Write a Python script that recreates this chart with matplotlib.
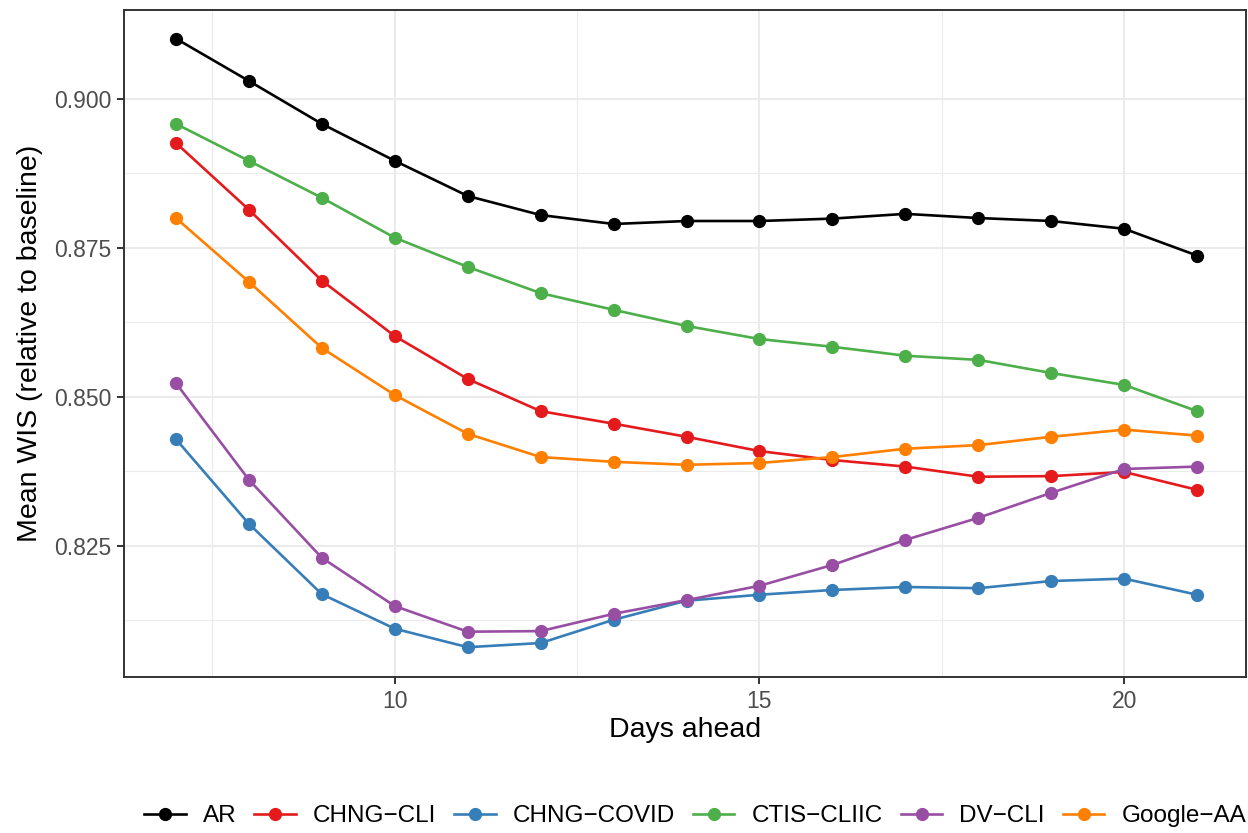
import numpy as np
import matplotlib
matplotlib.use("Agg")
import matplotlib.pyplot as plt
from matplotlib.lines import Line2D

plt.rcParams['font.family'] = ['Liberation Sans', 'DejaVu Sans']

days = list(range(7, 22))

ar = [0.9101, 0.9030, 0.8958, 0.8896, 0.8837, 0.8805, 0.8790, 0.8795,
      0.8795, 0.8799, 0.8807, 0.8800, 0.8795, 0.8782, 0.8737]
chng_cli = [0.8926, 0.8814, 0.8695, 0.8602, 0.8530, 0.8476, 0.8455, 0.8433,
            0.8409, 0.8394, 0.8383, 0.8366, 0.8367, 0.8374, 0.8344]
chng_covid = [0.8429, 0.8287, 0.8169, 0.8111, 0.8080, 0.8087, 0.8126, 0.8158,
              0.8168, 0.8176, 0.8181, 0.8179, 0.8191, 0.8195, 0.8168]
ctis_cliic = [0.8958, 0.8896, 0.8834, 0.8767, 0.8718, 0.8674, 0.8646, 0.8619,
              0.8597, 0.8584, 0.8569, 0.8562, 0.8540, 0.8520, 0.8476]
dv_cli = [0.8523, 0.8361, 0.8230, 0.8149, 0.8106, 0.8107, 0.8136, 0.8159,
          0.8183, 0.8218, 0.8260, 0.8297, 0.8339, 0.8379, 0.8383]
google_aa = [0.8800, 0.8693, 0.8582, 0.8503, 0.8438, 0.8399, 0.8391, 0.8386,
             0.8389, 0.8399, 0.8413, 0.8419, 0.8433, 0.8445, 0.8435]

names = ['AR', 'CHNG\u2212CLI', 'CHNG\u2212COVID', 'CTIS\u2212CLIIC', 'DV\u2212CLI', 'Google\u2212AA']
series = [ar, chng_cli, chng_covid, ctis_cliic, dv_cli, google_aa]
colors = ['#000000', '#E41A1C', '#377EB8', '#4DAF4A', '#984EA3', '#FF7F00']

fig = plt.figure(figsize=(12.48, 8.33), dpi=100)
ax = fig.add_axes([124/1248, 1-677/833, 1122/1248, 667/833])

for vals, col in zip(series, colors):
    ax.plot(days, vals, color=col, lw=1.9, marker='o', ms=8.5, zorder=3)

ax.set_xlim(6.288, 21.67)
ax.set_ylim(0.8030, 0.9149)
ax.set_xticks([10, 15, 20])
ax.set_xticks([7.5, 12.5, 17.5], minor=True)
ax.set_yticks([0.825, 0.850, 0.875, 0.900])
ax.set_yticks([0.8125, 0.8375, 0.8625, 0.8875], minor=True)
ax.set_yticklabels(['0.825', '0.850', '0.875', '0.900'])
ax.grid(which='major', color='#EBEBEB', lw=1.5, zorder=0)
ax.grid(which='minor', color='#EBEBEB', lw=0.8, zorder=0)
ax.set_axisbelow(True)
for s in ax.spines.values():
    s.set_color('#333333')
    s.set_linewidth(1.4)
ax.tick_params(which='major', length=5, width=1.4, color='#333333',
               labelsize=16.5, labelcolor='#4D4D4D', pad=4)
ax.tick_params(which='minor', length=0)
ax.set_xlabel('Days ahead', fontsize=20.5, labelpad=3)
ax.set_ylabel('Mean WIS (relative to baseline)', fontsize=20.5, labelpad=8)

handles = [Line2D([], [], color=c, lw=1.9, marker='o', ms=8.5) for c in colors]
fig.legend(handles, names, loc='center', bbox_to_anchor=(0.557, 1-816/833),
           ncol=6, frameon=False, fontsize=17.5, handlelength=1.7,
           handletextpad=0.7, columnspacing=0.75)

fig.savefig('out.png', dpi=100)
